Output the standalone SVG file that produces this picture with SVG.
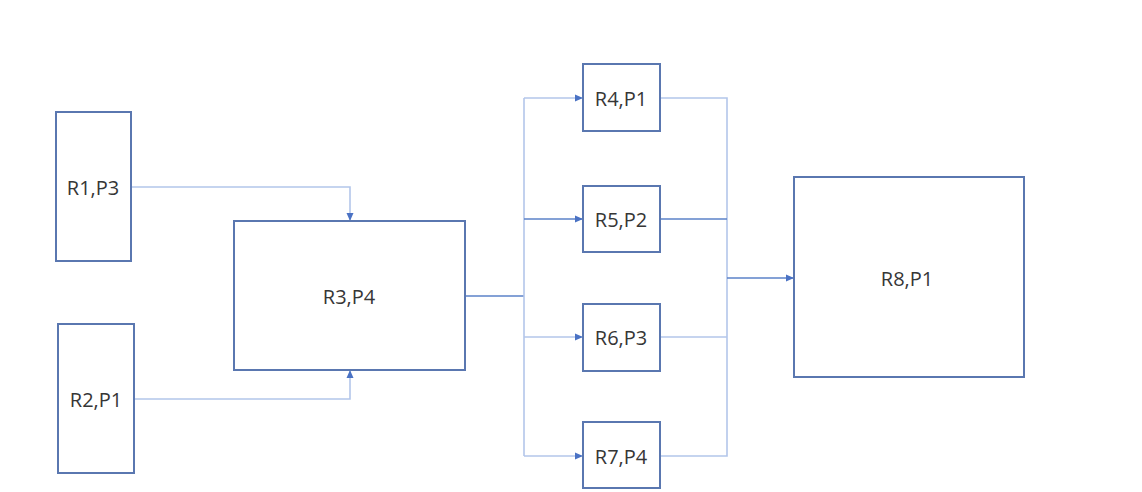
<svg xmlns="http://www.w3.org/2000/svg" width="1142" height="492" viewBox="0 0 1142 492">
<style>
.box{fill:#fff;stroke:#5a77b0;stroke-width:2}
.lbl{font-family:"Open Sans","Liberation Sans",sans-serif;font-size:20px;fill:#363636;text-anchor:middle;dominant-baseline:central}
.ln{fill:none;stroke:#b3c6ea;stroke-width:1.6}
.dk{fill:none;stroke:#5b82c9;stroke-width:1.6}
</style>
<defs>
<marker id="ah" markerWidth="8" markerHeight="8" refX="7" refY="4" orient="auto" markerUnits="userSpaceOnUse">
<path d="M0,0.5 L8,4 L0,7.5 Z" fill="#4a72c4"/>
</marker>
</defs>
<rect width="1142" height="492" fill="#fff"/>
<g id="connectors">
<path class="ln" d="M131,187 H350 V220" marker-end="url(#ah)"/>
<path class="ln" d="M134,399 H350 V371" marker-end="url(#ah)"/>
<path class="dk" d="M465,296 H524"/>
<path class="ln" d="M524,98 V456"/>
<path class="ln" d="M524,98 H582" marker-end="url(#ah)"/>
<path class="dk" d="M524,219 H582" marker-end="url(#ah)"/>
<path class="ln" d="M524,337 H582" marker-end="url(#ah)"/>
<path class="ln" d="M524,456 H582" marker-end="url(#ah)"/>
<path class="ln" d="M660,98 H727 V456 H660"/>
<path class="dk" d="M660,219 H727"/>
<path class="ln" d="M660,337 H727"/>
<path class="dk" d="M727,278 H793" marker-end="url(#ah)"/>
</g>
<g id="n1"><rect class="box" x="56" y="112" width="75" height="149"/><text class="lbl" x="93" y="187">R1,P3</text></g>
<g id="n2"><rect class="box" x="58" y="324" width="76" height="149"/><text class="lbl" x="96" y="399">R2,P1</text></g>
<g id="n3"><rect class="box" x="234" y="221" width="231" height="149"/><text class="lbl" x="349" y="296">R3,P4</text></g>
<g id="n4"><rect class="box" x="583" y="64" width="77" height="67"/><text class="lbl" x="621" y="98">R4,P1</text></g>
<g id="n5"><rect class="box" x="583" y="186" width="77" height="66"/><text class="lbl" x="621" y="219">R5,P2</text></g>
<g id="n6"><rect class="box" x="583" y="304" width="77" height="67"/><text class="lbl" x="621" y="337">R6,P3</text></g>
<g id="n7"><rect class="box" x="583" y="422" width="77" height="66"/><text class="lbl" x="621" y="456">R7,P4</text></g>
<g id="n8"><rect class="box" x="794" y="177" width="230" height="200"/><text class="lbl" x="907" y="278">R8,P1</text></g>
</svg>
